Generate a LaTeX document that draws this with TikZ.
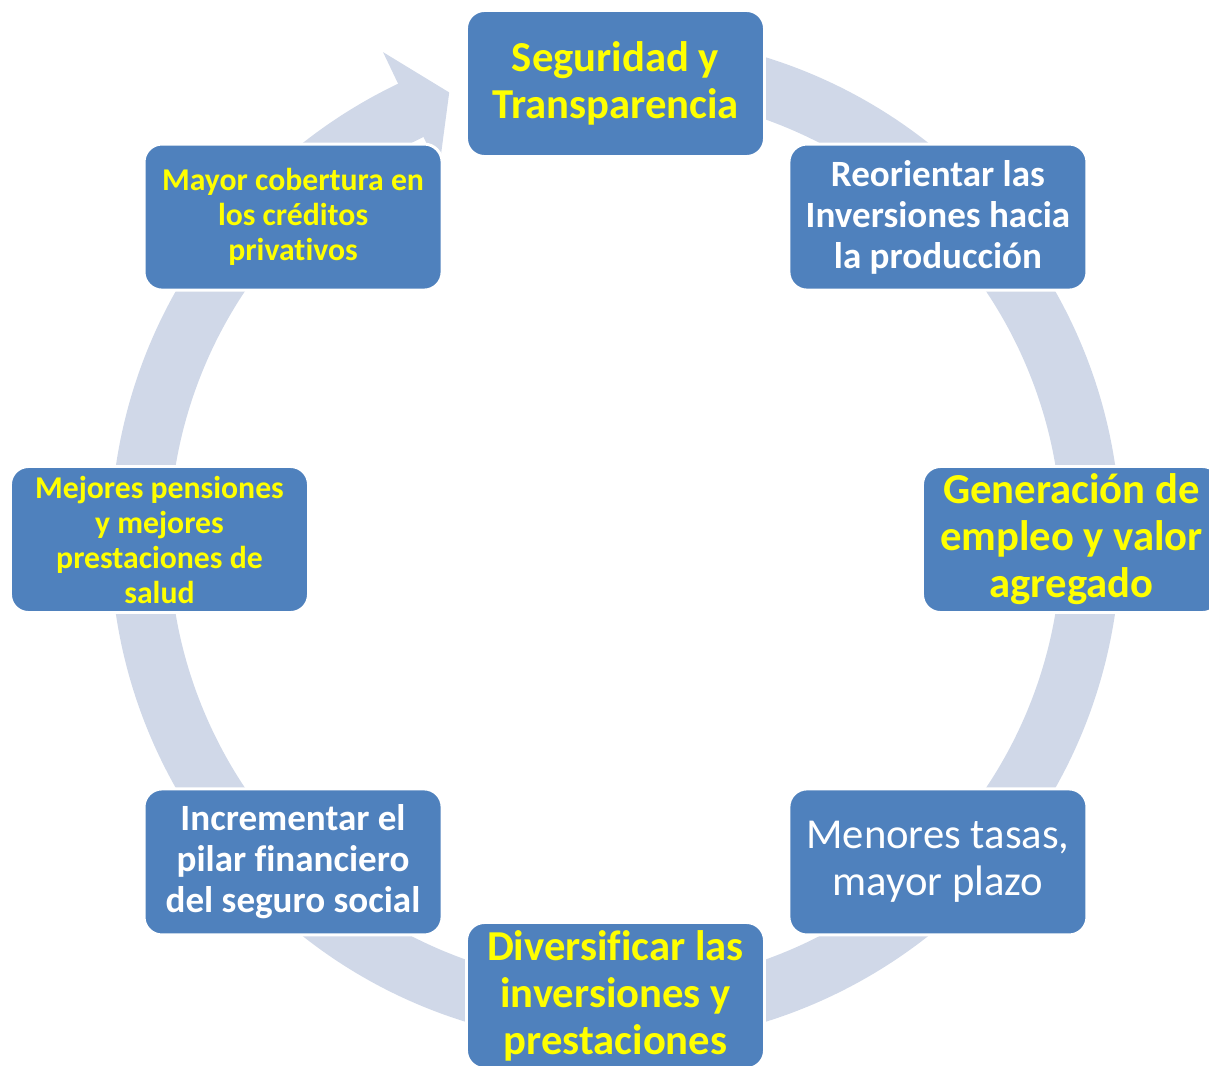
\documentclass[tikz,border=0pt]{standalone}
\usepackage{fontspec}
\setmainfont[Ligatures=NoCommon]{Carlito}
\usepackage{tikz}

\definecolor{boxblue}{RGB}{79,129,189}
\definecolor{ringgray}{RGB}{208,216,232}
\definecolor{txtyellow}{RGB}{255,255,0}

\begin{document}
\begin{tikzpicture}[x=0.75pt, y=0.75pt,
  stage/.style={rectangle, rounded corners=13.5pt, fill=boxblue, draw=white,
    line width=2.2pt, minimum width=223.5pt, minimum height=109.5pt,
    inner sep=1pt, align=center},
  bigtxt/.style={font=\bfseries\fontsize{32}{35.25}\selectfont, text=txtyellow},
  midtxt/.style={font=\bfseries\fontsize{27.8}{30.75}\selectfont, text=white},
  smalltxt/.style={font=\bfseries\fontsize{23.8}{26.25}\selectfont, text=txtyellow},
  plaintxt/.style={font=\fontsize{32}{35.25}\selectfont, text=white}]
\clip (-615.5, -525.5) rectangle (593.5, 539.5);

% circular arrow behind the stages
\fill[ringgray] (80:505) arc[start angle=80, end angle=-244.5, radius=505]
  -- (115.5:540) -- (110.4:477) -- (115.5:410)
  -- (-244.5:446) arc[start angle=-244.5, end angle=80, radius=446] -- cycle;

\path (90:456) node[stage, bigtxt] (seg) {Seguridad y\\Transparencia}
      (45:456) node[stage, midtxt] (reo) {Reorientar las\\Inversiones hacia\\la producción}
      (0:456) node[stage, bigtxt] (gen) {Generación de\\empleo y valor\\agregado}
      (-45:456) node[stage, plaintxt] (men) {Menores tasas,\\mayor plazo}
      (-90:456) node[stage, bigtxt] (div) {Diversificar las\\inversiones y\\prestaciones}
      (-135:456) node[stage, midtxt] (inc) {Incrementar el\\pilar financiero\\del seguro social}
      (180:456) node[stage, smalltxt] (pen) {Mejores pensiones\\y mejores\\prestaciones de\\salud}
      (135:456) node[stage, smalltxt] (cob) {Mayor cobertura en\\los créditos\\privativos};
\end{tikzpicture}
\end{document}
